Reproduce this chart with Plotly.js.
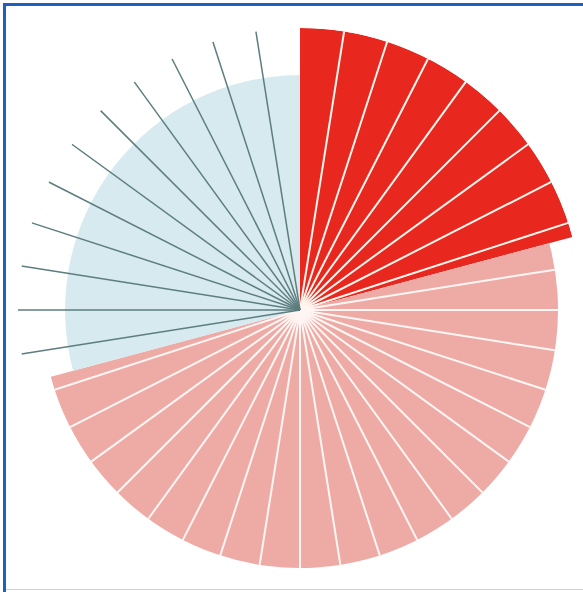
<!DOCTYPE html>
<html>
<head>
<meta charset="utf-8">
<script src="https://cdn.plot.ly/plotly-3.0.1.min.js"></script>
<style>
  html, body { margin: 0; padding: 0; background: #ffffff; }
  #wrap { position: relative; width: 583px; height: 592px; overflow: hidden; }
  #chart { position: absolute; left: 0; top: 0; width: 583px; height: 592px; }
  .frame { position: absolute; background: #1f60bd; pointer-events: none; }
</style>
</head>
<body>
<div id="wrap">
  <div id="chart"></div>
  <div class="frame" style="left:3px; top:3px; width:580px; height:3px;"></div>
  <div class="frame" style="left:3px; top:3px; width:3px; height:589px;"></div>
  <div class="frame" style="left:6px; top:589px; width:577px; height:1px; background:#c4d6e6;"></div>
</div>
<script>
// Sectors, clockwise from 12 o'clock
const sectorNames  = ['Red', 'Pink', 'Blue'];
const sectorSpan   = [75, 180, 105];      // degrees of the circle
const sectorRadius = [100, 91.5, 83.3];   // relative length
const sectorColors = ['#e8271f', '#eeaba6', '#d6eaef'];

// Radial division lines (degrees clockwise from 12 o'clock)
const redSpokes  = [9, 18, 27, 36, 45, 54, 63, 72];
const pinkSpokes = [81, 90, 99, 108, 117, 126, 135, 144, 153, 162, 171, 180,
                    189, 198, 207, 216, 225, 234, 243, 252];
const blueSpokes = [261, 270, 279, 288, 297, 306, 315, 324, 333, 342, 351];
const spokeLength = 100;

const traces = [];
let start = 0;
sectorNames.forEach((name, i) => {
  traces.push({
    type: 'barpolar',
    name: name,
    r: [sectorRadius[i]],
    theta: [start + sectorSpan[i] / 2],
    width: [sectorSpan[i]],
    marker: { color: sectorColors[i], line: { width: 0 } },
    hoverinfo: 'skip'
  });
  start += sectorSpan[i];
});

function spokeTrace(angles, len, color, w) {
  const r = [], th = [];
  angles.forEach(a => { r.push(0, len, null); th.push(a, a, null); });
  return {
    type: 'scatterpolar', mode: 'lines', r: r, theta: th,
    line: { color: color, width: w }, hoverinfo: 'skip', connectgaps: false
  };
}
traces.push(spokeTrace(redSpokes, sectorRadius[0], '#fff6ee', 2));
traces.push(spokeTrace(pinkSpokes, sectorRadius[1], '#fff6f4', 2));
traces.push(spokeTrace(blueSpokes, spokeLength, '#5d7d7e', 1.5));

const layout = {
  width: 583, height: 592,
  margin: { l: 0, r: 0, t: 0, b: 0 },
  paper_bgcolor: '#ffffff',
  showlegend: false,
  polar: {
    domain: { x: [18 / 583, 582 / 583], y: [0, 564 / 592] },
    bgcolor: 'rgba(0,0,0,0)',
    bargap: 0,
    radialaxis: { visible: false, range: [0, 100] },
    angularaxis: {
      visible: false, direction: 'clockwise', rotation: 90,
      showgrid: false, showline: false, showticklabels: false, ticks: ''
    }
  }
};

Plotly.newPlot('chart', traces, layout, { displayModeBar: false, staticPlot: true });
</script>
</body>
</html>
